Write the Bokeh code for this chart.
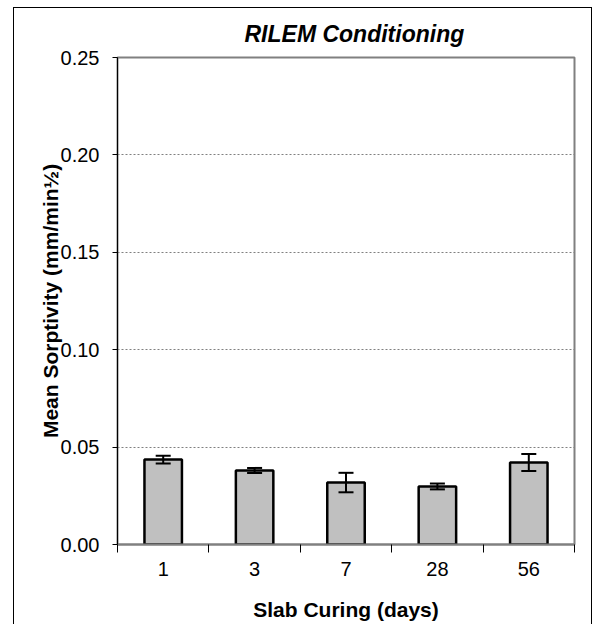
from bokeh.plotting import figure
from bokeh.layouts import column
from bokeh.models import (Range1d, FixedTicker, NumeralTickFormatter, Whisker,
                          TeeHead, ColumnDataSource)
from bokeh.embed import file_html
from bokeh.resources import INLINE

# ---- data ----
categories = ["1", "3", "7", "28", "56"]
mean_sorptivity = [0.0436, 0.0380, 0.0318, 0.0298, 0.0421]
error = [0.0020, 0.0013, 0.0050, 0.0015, 0.0044]
y_ticks = [0.00, 0.05, 0.10, 0.15, 0.20, 0.25]

centers = [i + 0.5 for i in range(len(categories))]
src = ColumnDataSource(dict(
    x=centers,
    top=mean_sorptivity,
    upper=[m + e for m, e in zip(mean_sorptivity, error)],
    lower=[m - e for m, e in zip(mean_sorptivity, error)],
))

FONT = "Liberation Sans"

p = figure(
    frame_width=457, frame_height=487,
    x_range=Range1d(0, len(categories)), y_range=Range1d(0, 0.25),
    output_backend="svg", toolbar_location=None,
    min_border_left=103, min_border_right=17,
    min_border_top=49, min_border_bottom=80,
    title="RILEM Conditioning",
)

p.title.text_font = FONT
p.title.text_font_size = "23px"
p.title.text_font_style = "bold italic"
p.title.text_color = "black"
p.title.align = "left"
p.title.offset = 127
p.title.standoff = 21

p.outline_line_color = "#808080"
p.outline_line_width = 2
p.background_fill_color = "white"
p.border_fill_color = "white"

p.vbar(x="x", top="top", width=0.41, bottom=0, source=src,
       fill_color="#C0C0C0", line_color="black", line_width=2.5)

w = Whisker(base="x", upper="upper", lower="lower", source=src,
            line_color="black", line_width=2, level="annotation",
            upper_head=TeeHead(size=15, line_color="black", line_width=2),
            lower_head=TeeHead(size=15, line_color="black", line_width=2))
p.add_layout(w)

# x axis: labels at centres, separator ticks at category boundaries
p.xaxis.ticker = FixedTicker(ticks=centers,
                             minor_ticks=list(range(len(categories) + 1)))
p.xaxis.major_label_overrides = {c: lab for c, lab in zip(centers, categories)}
p.xaxis.major_tick_out = 0
p.xaxis.major_tick_in = 0
p.xaxis.minor_tick_out = 8
p.xaxis.minor_tick_in = 0
p.xaxis.minor_tick_line_color = "black"
p.xaxis.minor_tick_line_width = 1
p.xaxis.axis_line_color = "#808080"
p.xaxis.axis_line_width = 2
p.xaxis.major_label_standoff = 9
p.xaxis.major_label_text_font = FONT
p.xaxis.major_label_text_font_size = "20px"
p.xaxis.major_label_text_color = "black"
p.xaxis.axis_label = "Slab Curing (days)"
p.xaxis.axis_label_text_font = FONT
p.xaxis.axis_label_text_font_size = "21px"
p.xaxis.axis_label_text_font_style = "bold"
p.xaxis.axis_label_text_color = "black"
p.xaxis.axis_label_standoff = 19

p.yaxis.ticker = FixedTicker(ticks=y_ticks, minor_ticks=[])
p.yaxis.formatter = NumeralTickFormatter(format="0.00")
p.yaxis.major_tick_out = 5
p.yaxis.major_tick_in = 0
p.yaxis.major_tick_line_color = "black"
p.yaxis.axis_line_color = "black"
p.yaxis.axis_line_width = 1
p.yaxis.major_label_standoff = 13
p.yaxis.major_label_text_font = FONT
p.yaxis.major_label_text_font_size = "20px"
p.yaxis.major_label_text_color = "black"
p.yaxis.axis_label = "Mean Sorptivity (mm/min½)"
p.yaxis.axis_label_text_font = FONT
p.yaxis.axis_label_text_font_size = "21px"
p.yaxis.axis_label_text_font_style = "bold"
p.yaxis.axis_label_text_color = "black"
p.yaxis.axis_label_standoff = -4

p.xgrid.grid_line_color = None
p.ygrid.ticker = FixedTicker(ticks=y_ticks[1:-1])
p.ygrid.grid_line_color = "#808080"
p.ygrid.grid_line_dash = "2 2"
p.ygrid.grid_line_width = 1

root = column(p, margin=(7, 0, 0, 13),
              styles={"border-top": "1px solid black",
                      "border-left": "1px solid black",
                      "border-right": "1px solid black"})

open("out.html", "w").write(file_html(root, INLINE))
